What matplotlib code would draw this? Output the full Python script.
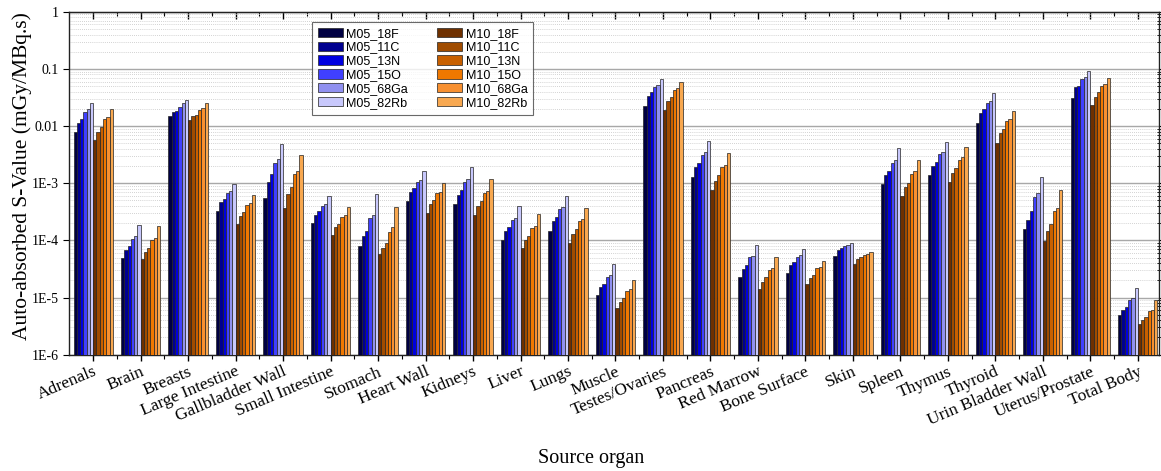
import numpy as np
import matplotlib
matplotlib.use("Agg")
import matplotlib.pyplot as plt
from matplotlib.ticker import LogLocator, NullFormatter

# ==========================================
# data
# ==========================================
organs = ['Adrenals', 'Brain', 'Breasts', 'Large Intestine', 'Gallbladder Wall',
          'Small Intestine', 'Stomach', 'Heart Wall', 'Kidneys', 'Liver', 'Lungs',
          'Muscle', 'Testes/Ovaries', 'Pancreas', 'Red Marrow', 'Bone Surface',
          'Skin', 'Spleen', 'Thymus', 'Thyroid', 'Urin Bladder Wall',
          'Uterus/Prostate', 'Total Body']

series_names = ['M05_18F', 'M05_11C', 'M05_13N', 'M05_15O', 'M05_68Ga', 'M05_82Rb',
                'M10_18F', 'M10_11C', 'M10_13N', 'M10_15O', 'M10_68Ga', 'M10_82Rb']

series_colors = ['#000042', '#000090', '#0000e0', '#4040ff', '#9090f0', '#c8c8fc',
                 '#6e3000', '#a04c00', '#c86000', '#f07800', '#f89030', '#f8a850']

M05_18F = [7.74e-3, 4.91e-5, 1.50e-2, 3.21e-4, 5.43e-4, 1.98e-4, 7.96e-5, 4.94e-4,
           4.38e-4, 1.00e-4, 1.46e-4, 9.9e-6, 2.24e-2, 1.30e-3, 2.22e-5, 2.61e-5,
           5.32e-5, 9.67e-4, 1.39e-3, 1.13e-2, 1.56e-4, 3.05e-2, 4.04e-6]
M05_11C = [1.11e-2, 6.59e-5, 1.73e-2, 4.69e-4, 1.05e-3, 2.74e-4, 1.19e-4, 6.91e-4,
           6.29e-4, 1.42e-4, 2.15e-4, 1.43e-5, 3.30e-2, 1.89e-3, 3.11e-5, 3.60e-5,
           6.59e-5, 1.39e-3, 2.00e-3, 1.67e-2, 2.27e-4, 4.75e-2, 5.14e-6]
M05_13N = [1.34e-2, 7.75e-5, 1.83e-2, 5.21e-4, 1.45e-3, 3.26e-4, 1.42e-4, 8.12e-4,
           7.59e-4, 1.67e-4, 2.56e-4, 1.61e-5, 3.94e-2, 2.22e-3, 3.60e-5, 4.01e-5,
           7.15e-5, 1.63e-3, 2.35e-3, 1.96e-2, 3.26e-4, 5.08e-2, 5.88e-6]
M05_15O = [1.76e-2, 1.06e-4, 2.18e-2, 6.82e-4, 2.28e-3, 3.99e-4, 2.43e-4, 1.06e-3,
           1.05e-3, 2.27e-4, 3.48e-4, 2.22e-5, 4.75e-2, 3.15e-3, 4.97e-5, 5.11e-5,
           7.96e-5, 2.28e-3, 3.19e-3, 2.49e-2, 5.65e-4, 6.55e-2, 7.90e-6]
M05_68Ga = [1.96e-2, 1.16e-4, 2.49e-2, 7.20e-4, 2.61e-3, 4.38e-4, 2.77e-4, 1.14e-3,
            1.18e-3, 2.49e-4, 3.88e-4, 2.41e-5, 5.15e-2, 3.51e-3, 5.32e-5, 5.39e-5,
            8.18e-5, 2.54e-3, 3.56e-3, 2.77e-2, 6.64e-4, 7.10e-2, 8.70e-6]
M05_82Rb = [2.56e-2, 1.88e-4, 2.89e-2, 9.80e-4, 4.78e-3, 5.97e-4, 6.38e-4, 1.61e-3,
            1.89e-3, 4.04e-4, 5.89e-4, 3.70e-5, 6.73e-2, 5.39e-3, 8.18e-5, 6.96e-5,
            8.87e-5, 4.07e-3, 5.18e-3, 3.73e-2, 1.30e-3, 9.04e-2, 1.35e-5]

M10_18F = [5.61e-3, 4.65e-5, 1.27e-2, 1.93e-4, 3.63e-4, 1.21e-4, 5.61e-5, 3.05e-4,
           2.77e-4, 7.34e-5, 8.98e-5, 5.5e-6, 1.93e-2, 7.69e-4, 1.30e-5, 1.59e-5,
           3.70e-5, 6.04e-4, 1.06e-3, 5.04e-3, 9.73e-5, 2.30e-2, 2.49e-6]
M10_11C = [7.96e-3, 6.08e-5, 1.50e-2, 2.67e-4, 6.38e-4, 1.69e-4, 7.15e-5, 4.32e-4,
           3.99e-4, 1.00e-4, 1.29e-4, 7.4e-6, 2.70e-2, 1.09e-3, 1.75e-5, 2.11e-5,
           4.53e-5, 8.69e-4, 1.49e-3, 7.44e-3, 1.46e-4, 3.22e-2, 3.05e-6]
M10_13N = [9.73e-3, 7.34e-5, 1.58e-2, 3.17e-4, 8.57e-4, 1.90e-4, 8.98e-5, 5.08e-4,
           4.81e-4, 1.16e-4, 1.56e-4, 8.7e-6, 3.26e-2, 1.37e-3, 2.16e-5, 2.41e-5,
           4.97e-5, 1.02e-3, 1.82e-3, 8.98e-3, 1.93e-4, 3.94e-2, 3.53e-6]
M10_15O = [1.31e-2, 1.01e-4, 1.88e-2, 4.09e-4, 1.43e-3, 2.52e-4, 1.40e-4, 6.73e-4,
           6.64e-4, 1.64e-4, 2.21e-4, 1.18e-5, 4.26e-2, 1.89e-3, 2.95e-5, 3.15e-5,
           5.47e-5, 1.47e-3, 2.54e-3, 1.21e-2, 3.21e-4, 5.08e-2, 4.75e-6]
M10_68Ga = [1.42e-2, 1.08e-4, 2.04e-2, 4.50e-4, 1.61e-3, 2.74e-4, 1.69e-4, 7.10e-4,
            7.30e-4, 1.78e-4, 2.39e-4, 1.30e-5, 4.62e-2, 2.11e-3, 3.19e-5, 3.33e-5,
            5.77e-5, 1.63e-3, 2.83e-3, 1.33e-2, 3.68e-4, 5.36e-2, 5.14e-6]
M10_82Rb = [1.96e-2, 1.78e-4, 2.49e-2, 6.21e-4, 3.07e-3, 3.78e-4, 3.88e-4, 1.02e-3,
            1.18e-3, 2.89e-4, 3.73e-4, 1.95e-5, 5.89e-2, 3.32e-3, 5.04e-5, 4.30e-5,
            6.17e-5, 2.58e-3, 4.29e-3, 1.83e-2, 7.50e-4, 7.00e-2, 8.13e-6]

all_series = [M05_18F, M05_11C, M05_13N, M05_15O, M05_68Ga, M05_82Rb,
              M10_18F, M10_11C, M10_13N, M10_15O, M10_68Ga, M10_82Rb]

y_ticks = [1e-6, 1e-5, 1e-4, 1e-3, 1e-2, 1e-1, 1]
y_tick_labels = ['1E-6', '1E-5', '1E-4', '1E-3', '0.01', '0.1', '1']

# ==========================================
# plot
# ==========================================
serif = ['Liberation Serif', 'DejaVu Serif']
sans = ['Liberation Sans', 'DejaVu Sans']

fig = plt.figure(figsize=(11.61, 4.71), dpi=100)
ax = fig.add_axes([0.0594, 0.247, 0.9386, 0.728])

x = np.arange(len(organs))
w = 0.069
for i, (vals, name, col) in enumerate(zip(all_series, series_names, series_colors)):
    ax.bar(x + (i - 5.5) * w, vals, width=w, bottom=1e-6, color=col,
           edgecolor='#222222', linewidth=0.5, label=name, zorder=3)

ax.set_yscale('log')
ax.set_ylim(1e-6, 1)
ax.set_xlim(-0.51, 22.44)

ax.set_yticks(y_ticks)
ax.set_yticklabels(y_tick_labels, family=serif, fontsize=10)
ax.yaxis.set_minor_locator(LogLocator(base=10, subs=np.arange(2, 10)))
ax.yaxis.set_minor_formatter(NullFormatter())

ax.set_xticks(x)
ax.set_xticklabels(organs, rotation=23, ha='right', rotation_mode='anchor',
                   family=serif, fontsize=12.5)
ax.set_xticks(x[:-1] + 0.5, minor=True)

# bottom ticks point out, top ticks point in
ax.tick_params(axis='x', which='major', direction='out', length=4, width=1, pad=2.5)
ax.tick_params(axis='x', which='minor', direction='out', length=3, width=0.8)
top = ax.secondary_xaxis('top')
top.set_xticks(x)
top.set_xticks(x[:-1] + 0.5, minor=True)
top.xaxis.set_major_formatter(NullFormatter())
top.tick_params(axis='x', which='major', direction='in', length=5, width=1)
top.tick_params(axis='x', which='minor', direction='in', length=3, width=0.8)

ax.tick_params(axis='y', which='major', direction='out', length=4, right=True)
ax.tick_params(axis='y', which='minor', direction='inout', length=3,
               left=False, right=True)

ax.grid(True, which='major', axis='y', color='#a8a8a8', linewidth=1, zorder=0)
ax.grid(True, which='minor', axis='y', color='#c4c4c4', linewidth=0.6,
        linestyle=(0, (1, 1.5)), zorder=0)
ax.set_axisbelow(True)

for sp in ax.spines.values():
    sp.set_linewidth(1)
    sp.set_color('#222222')

ax.set_ylabel('Auto-absorbed S-Value (mGy/MBq.s)', family=serif, fontsize=15.5)
ax.yaxis.set_label_coords(-0.034, 0.52)
fig.text(0.509, 0.017, 'Source organ', family=serif, fontsize=14.5,
         ha='center', va='baseline')

leg = ax.legend(ncol=2, loc='upper left', bbox_to_anchor=(0.223, 0.970),
                borderaxespad=0, prop={'family': sans, 'size': 9},
                frameon=True, fancybox=False, edgecolor='#444444',
                handlelength=2.0, handleheight=0.75, labelspacing=0.15,
                columnspacing=2.3, borderpad=0.45, handletextpad=0.3)
leg.get_frame().set_linewidth(0.8)

fig.savefig('out.png', dpi=100)
